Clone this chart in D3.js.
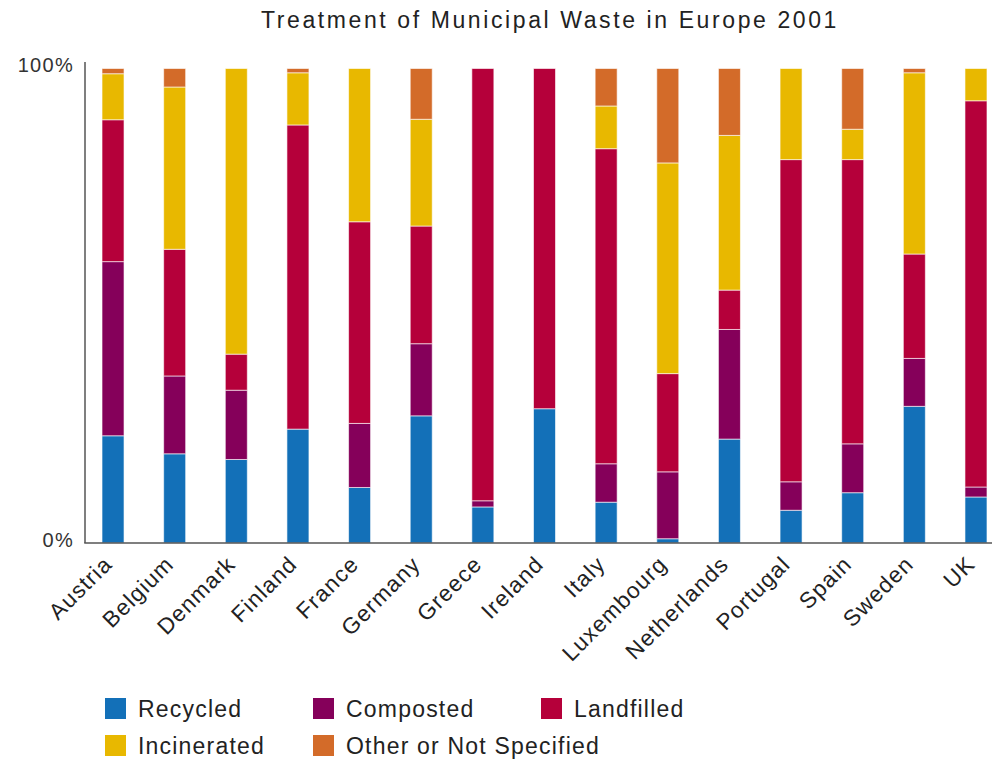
<!DOCTYPE html>
<html>
<head>
<meta charset="utf-8">
<script src="https://cdn.jsdelivr.net/npm/d3@7"></script>
<style>
  html, body { margin: 0; padding: 0; background: #fff; }
  svg { display: block; font-family: "Liberation Sans", Arial, sans-serif; }
</style>
</head>
<body>
<svg id="chart" width="992" height="759"></svg>
<script>
const categories = ["Austria","Belgium","Denmark","Finland","France","Germany","Greece","Ireland","Italy","Luxembourg","Netherlands","Portugal","Spain","Sweden","UK"];
const seriesNames = ["Recycled","Composted","Landfilled","Incinerated","Other or Not Specified"];
const recycled    = [22.6, 18.8, 17.6, 24.0, 11.7, 26.8,  7.6, 28.3,  8.6,  0.9, 21.9,  6.9, 10.6, 28.8,  9.7];
const composted   = [36.7, 16.4, 14.6,  0.0, 13.5, 15.2,  1.3,  0.0,  8.1, 14.1, 23.1,  6.0, 10.3, 10.1,  2.1];
const landfilled  = [29.9, 26.7,  7.6, 64.1, 42.5, 24.8, 91.1, 71.7, 66.4, 20.7,  8.3, 67.9, 59.9, 22.0, 81.4];
const incinerated = [ 9.7, 34.2, 60.2, 11.0, 32.3, 22.5,  0.0,  0.0,  9.0, 44.4, 32.6, 19.2,  6.4, 38.2,  6.8];
const other       = [ 1.1,  3.9,  0.0,  0.9,  0.0, 10.7,  0.0,  0.0,  7.9, 19.9, 14.1,  0.0, 12.8,  0.9,  0.0];
const tickLabels  = ["0%", "100%"];
const tickValues  = [0, 100];
const colors      = ["#1370b8", "#85005a", "#b5003a", "#e8b800", "#d36b29"];
const title       = "Treatment of Municipal Waste in Europe 2001";

const seriesValues = [recycled, composted, landfilled, incinerated, other];
const rows = categories.map((c, i) => {
  const r = { country: c };
  seriesNames.forEach((s, k) => r[s] = seriesValues[k][i]);
  return r;
});
const stacked = d3.stack().keys(seriesNames)(rows);

const svg = d3.select("#chart");
const x = d3.scaleBand().domain(categories).range([82.2, 1006.8]).paddingInner(0.643).paddingOuter(0.3215);
const y = d3.scaleLinear().domain([0, 100]).range([543, 68.5]);
const color = d3.scaleOrdinal().domain(seriesNames).range(colors);

// title
svg.append("text")
  .attr("x", 550).attr("y", 28)
  .attr("text-anchor", "middle")
  .style("font-size", "23px")
  .style("letter-spacing", "2.6px")
  .style("fill", "#222")
  .text(title);

// bars
svg.append("g").selectAll("g")
  .data(stacked).join("g")
  .attr("fill", d => color(d.key))
  .selectAll("rect")
  .data(d => d.filter(s => s[1] - s[0] > 0))
  .join("rect")
  .attr("x", d => x(d.data.country))
  .attr("width", x.bandwidth())
  .attr("y", d => y(d[1]))
  .attr("height", d => y(d[0]) - y(d[1]))
  .attr("stroke", "#fff")
  .attr("stroke-width", 1)
  .attr("stroke-opacity", 0.6);

// y axis
const yAxis = d3.axisLeft(y).tickValues(tickValues).tickFormat((d, i) => tickLabels[i]).tickSize(0).tickPadding(0);
const gy = svg.append("g").attr("transform", "translate(85,0)").call(yAxis);
gy.select(".domain").remove();
gy.selectAll("text")
  .attr("x", -11)
  .attr("dy", "0.15em")
  .style("font-size", "20px")
  .style("letter-spacing", "1.3px")
  .style("font-family", "Liberation Sans, Arial, sans-serif")
  .style("fill", "#333");
svg.append("line").attr("x1", 85).attr("x2", 85).attr("y1", 62).attr("y2", 543)
  .attr("stroke", "#555").attr("stroke-width", 1.5);

// x axis
const xAxis = d3.axisBottom(x).tickSize(0).tickPadding(0);
const gx = svg.append("g").attr("transform", "translate(0,543)").call(xAxis);
gx.select(".domain").remove();
gx.selectAll("text")
  .attr("text-anchor", "end")
  .attr("transform", "translate(-5,17) rotate(-45)")
  .attr("x", 0).attr("y", 0).attr("dy", "0.35em")
  .style("font-size", "22.5px")
  .style("letter-spacing", "1.2px")
  .style("font-family", "Liberation Sans, Arial, sans-serif")
  .style("fill", "#222");
svg.append("line").attr("x1", 84.25).attr("x2", 992).attr("y1", 543).attr("y2", 543)
  .attr("stroke", "#555").attr("stroke-width", 1.5);

// legend
const legendPos = [[105, 698], [313, 698], [541, 698], [105, 735], [313, 735]];
const lg = svg.append("g").selectAll("g").data(seriesNames).join("g")
  .attr("transform", (d, i) => `translate(${legendPos[i][0]},${legendPos[i][1]})`);
lg.append("rect").attr("width", 21).attr("height", 21).attr("fill", d => color(d));
lg.append("text").attr("x", 33).attr("y", 10.5).attr("dy", "0.35em")
  .style("font-size", "23px")
  .style("letter-spacing", "1.2px")
  .style("fill", "#222")
  .text(d => d);
</script>
</body>
</html>
